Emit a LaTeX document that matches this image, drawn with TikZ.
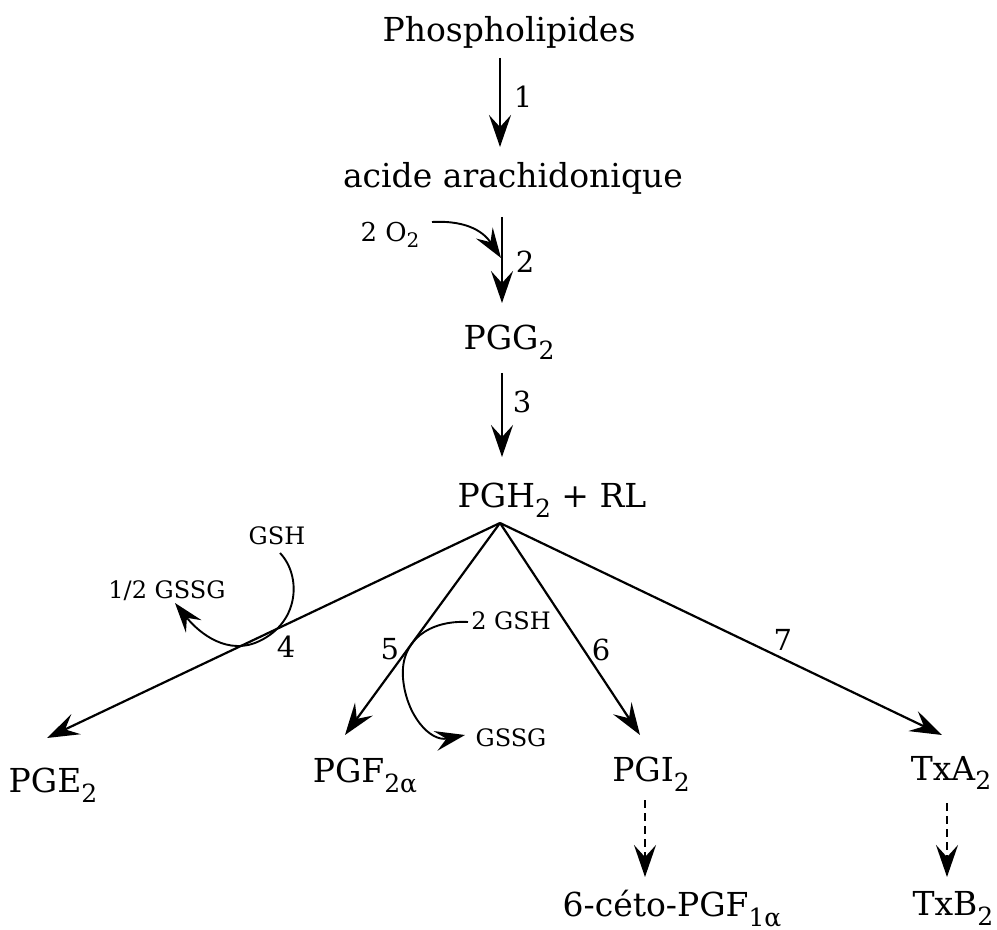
\documentclass[tikz,border=0pt]{standalone}
\usepackage{fontspec}
\setmainfont{DejaVu Serif}
\usetikzlibrary{arrows.meta,calc}
\newcommand{\sbs}[1]{\raisebox{-5pt}{\fontsize{12.5}{12.5}\selectfont #1}}
\newcommand{\sbss}[1]{\raisebox{-3pt}{\fontsize{10}{10}\selectfont #1}}
\begin{document}
\begin{tikzpicture}[x=0.5pt,y=-0.5pt,
  lab/.style={inner sep=0pt, anchor=base, font=\fontsize{16.5}{18}\selectfont},
  sm/.style={inner sep=0pt, anchor=base, font=\fontsize{12}{14}\selectfont},
  num/.style={inner sep=0pt, font=\fontsize{14.5}{16}\selectfont},
  arr/.style={line width=1.1pt, -{Stealth[length=16pt,width=11pt,inset=6pt]}},
  carr/.style={line width=0.95pt, -{Stealth[length=15pt,width=10pt,inset=5.5pt]}},
  darr/.style={line width=1.1pt, dash pattern=on 4pt off 2.5pt, -{Stealth[length=16pt,width=11pt,inset=6pt]}}]
\useasboundingbox (0,0) rectangle (997,930);

% main nodes
\node[lab] (phos)  at (509,42)  {Phospholipides};
\node[lab] (acide) at (513,188) {acide arachidonique};
\node[lab] (pgg)   at (509,350) {PGG\sbs{2}};
\node[lab] (pgh)   at (552,508) {PGH\sbs{2} + RL};
\node[lab] (pge)   at (53,792)  {PGE\sbs{2}};
\node[lab] (pgf)   at (365,783) {PGF\sbs{2α}};
\node[lab] (pgi)   at (651,782) {PGI\sbs{2}};
\node[lab] (txa)   at (951,780) {TxA\sbs{2}};
\node[lab] (keto)  at (672,916) {6-céto-PGF\sbs{1α}};
\node[lab] (txb)   at (953,915) {TxB\sbs{2}};

% side reagents
\node[sm, font=\fontsize{13}{15}\selectfont] (o2) at (390,242) {2 O\sbss{2}};
\node[sm] (gshA)  at (277,545) {GSH};
\node[sm] (gssgA) at (167,599) {1/2 GSSG};
\node[sm] (gshB)  at (511,630) {2 GSH};
\node[sm] (gssgB) at (511,747) {GSSG};

% vertical arrows
\draw[arr] ([shift={(-9,16)}]phos.base) -- node[num,pos=0.44,xshift=11.5pt]{1} ([shift={(-13,-41)}]acide.base);
\draw[arr] ([shift={(-11,29)}]acide.base) -- node[num,pos=0.52,xshift=11.5pt]{2} ([shift={(-7,-47)}]pgg.base);
\draw[arr] ([shift={(-7,23)}]pgg.base) -- node[num,pos=0.35,xshift=10pt]{3} ([shift={(-50,-51)}]pgh.base);

% branches
\coordinate (apex) at ([shift={(-52,15)}]pgh.base);
\draw[arr] (apex) -- node[num,pos=0.472,yshift=-11pt]{4} ([shift={(-6,-54)}]pge.base);
\draw[arr] (apex) -- node[num,pos=0.594,xshift=-9pt]{5} ([shift={(-20,-48)}]pgf.base);
\draw[arr] (apex) -- node[num,pos=0.6,xshift=8.5pt]{6} ([shift={(-11,-47)}]pgi.base);
\draw[arr] (apex) -- node[num,pos=0.64,yshift=9.5pt]{7} ([shift={(-9,-45)}]txa.base);

% dashed arrows
\draw[darr] ([shift={(-6,18)}]pgi.base) -- ([shift={(-27,-39)}]keto.base);
\draw[darr] ([shift={(-4,23)}]txa.base) -- ([shift={(-6,-38)}]txb.base);

% side curves
\draw[carr] ([shift={(42,-20)}]o2.base) .. controls (470,220) and (485,234) .. ([shift={(-12,70)}]acide.base);
\draw[carr] ([shift={(3,8)}]gshA.base) .. controls (302,576) and (300,625) .. (255,643)
            .. controls (222,655) and (195,628) .. ([shift={(8,4)}]gssgA.base);
\draw[carr] ([shift={(-43,-8)}]gshB.base) .. controls (430,620) and (400,640) .. (403,678)
            .. controls (406,715) and (430,742) .. ([shift={(-46,-12)}]gssgB.base);
\end{tikzpicture}
\end{document}
